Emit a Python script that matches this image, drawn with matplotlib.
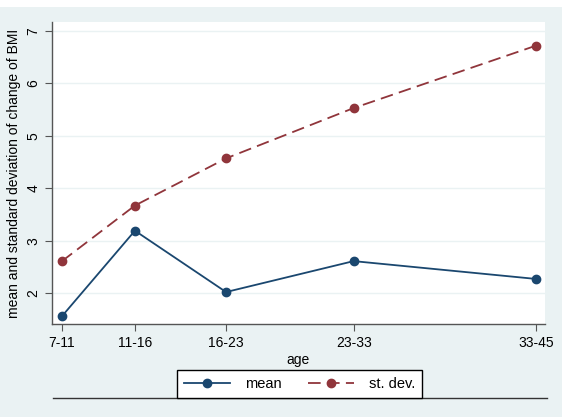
import matplotlib
matplotlib.use("Agg")
import matplotlib.pyplot as plt
from matplotlib.patches import Rectangle
from matplotlib.lines import Line2D

plt.rcParams['font.family'] = ['Liberation Sans', 'DejaVu Sans']

# данные
age_start = [7, 11, 16, 23, 33]
age_labels = ['7-11', '11-16', '16-23', '23-33', '33-45']
mean_vals = [1.56, 3.19, 2.02, 2.61, 2.27]
sd_vals = [2.61, 3.67, 4.57, 5.53, 6.72]
y_ticks = [2, 3, 4, 5, 6, 7]

bg = '#eaf2f3'
navy = '#1a476f'
maroon = '#90353b'

fig = plt.figure(figsize=(5.64, 4.17), dpi=100, facecolor=bg)
# белая рамка скриншота сверху и справа
fig.add_artist(Rectangle((0, 0.983), 1, 0.017, transform=fig.transFigure,
                         facecolor='white', edgecolor='none'))
fig.add_artist(Rectangle((0.9965, 0), 0.0035, 1, transform=fig.transFigure,
                         facecolor='white', edgecolor='none'))

ax = fig.add_axes([0.0922, 0.223, 0.8741, 0.724])
ax.set_facecolor('white')

l1, = ax.plot(age_start, mean_vals, color=navy, lw=1.3, marker='o', ms=6,
              label='mean', zorder=3)
l2, = ax.plot(age_start, sd_vals, color=maroon, lw=1.3, ls=(0, (7, 3.5)),
              marker='o', ms=6, label='st. dev.', zorder=3)

ax.set_xlim(6.45, 33.5)
ax.set_ylim(1.41, 7.17)
ax.set_xticks(age_start)
ax.set_xticklabels(age_labels)
ax.set_yticks(y_ticks)
ax.set_yticklabels([str(t) for t in y_ticks], rotation=90, va='center')
ax.grid(axis='y', color=bg, lw=1.0)
ax.set_axisbelow(True)

for s in ['top', 'right']:
    ax.spines[s].set_visible(False)
for s in ['left', 'bottom']:
    ax.spines[s].set_color('#555555')
    ax.spines[s].set_linewidth(1.0)
ax.tick_params(colors='#555555', labelcolor='black', labelsize=10, length=5)

ax.set_xlabel('age', fontsize=10, labelpad=2)
ax.set_ylabel('mean and standard deviation of change of BMI', fontsize=10, labelpad=4)

# линия под легендой
fig.add_artist(Line2D([53 / 564, 547 / 564], [0.0456, 0.0456],
                      transform=fig.transFigure, color='#333333', lw=1.0))

leg = fig.legend(handles=[l1, l2], loc='center', bbox_to_anchor=(0.531, 0.079),
                 ncol=2, fancybox=False, edgecolor='black', framealpha=1,
                 fontsize=10.5, handlelength=3.2, columnspacing=1.8,
                 borderpad=0.45, handletextpad=1.0)
leg.get_frame().set_linewidth(1.0)
leg.set_zorder(5)

fig.savefig('out.png', dpi=100, facecolor=bg)
